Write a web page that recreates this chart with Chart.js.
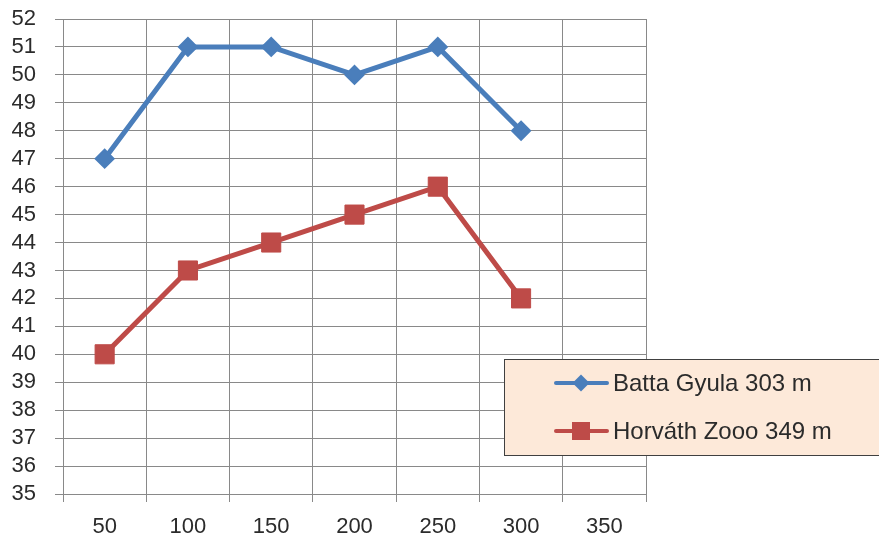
<!DOCTYPE html>
<html>
<head>
<meta charset="utf-8">
<script src="https://cdn.jsdelivr.net/npm/chart.js@4"></script>
<style>
html,body{margin:0;padding:0;background:#fff;}
#wrap{width:879px;height:540px;position:relative;}
</style>
</head>
<body>
<div id="wrap"><canvas id="c" width="879" height="540"></canvas></div>
<script>
const categories = ['50','100','150','200','250','300','350'];
const battaName = 'Batta Gyula 303 m';
const battaValues = [47, 51, 51, 50, 51, 48];
const horvathName = 'Horváth Zooo 349 m';
const horvathValues = [40, 43, 44, 45, 46, 42];
const yMin = 35, yMax = 52, yStep = 1;

const FONT = '"Liberation Sans", Arial, sans-serif';
const GRID = '#898989';
const TEXT = '#2b2b2b';

const legendPlugin = {
  id: 'boxLegend',
  afterDraw(chart) {
    const ctx = chart.ctx;
    ctx.save();
    const x0 = 504, y0 = 359, x1 = 880, y1 = 455;
    ctx.fillStyle = '#FDE9D9';
    ctx.fillRect(x0, y0, x1 - x0, y1 - y0);
    ctx.strokeStyle = '#404040';
    ctx.lineWidth = 1;
    ctx.strokeRect(x0 + 0.5, y0 + 0.5, x1 - x0, y1 - y0);
    const rows = [383, 431];
    chart.data.datasets.forEach((ds, i) => {
      const y = rows[i];
      ctx.strokeStyle = ds.borderColor;
      ctx.lineWidth = 4;
      ctx.lineCap = 'round';
      ctx.beginPath();
      ctx.moveTo(556, y);
      ctx.lineTo(607, y);
      ctx.stroke();
      ctx.fillStyle = ds.borderColor;
      if (ds.pointStyle === 'rectRot') {
        const r = 8.5;
        ctx.beginPath();
        ctx.moveTo(581, y - r);
        ctx.lineTo(581 + r, y);
        ctx.lineTo(581, y + r);
        ctx.lineTo(581 - r, y);
        ctx.closePath();
        ctx.fill();
      } else {
        ctx.fillRect(581 - 9, y - 9, 18, 18);
      }
      ctx.fillStyle = TEXT;
      ctx.font = '24px ' + FONT;
      ctx.textBaseline = 'middle';
      ctx.textAlign = 'left';
      ctx.fillText(ds.label, 613, y + 1);
    });
    ctx.restore();
  }
};

new Chart(document.getElementById('c'), {
  type: 'line',
  data: {
    labels: categories,
    datasets: [
      {
        label: battaName,
        data: battaValues,
        borderColor: '#4A7EBB',
        backgroundColor: '#4A7EBB',
        borderWidth: 5,
        pointStyle: 'rectRot',
        pointRadius: 9,
        pointBorderWidth: 2,
        pointHoverRadius: 9,
        tension: 0
      },
      {
        label: horvathName,
        data: horvathValues,
        borderColor: '#BE4B48',
        backgroundColor: '#BE4B48',
        borderWidth: 5,
        pointStyle: 'rect',
        pointRadius: 13.5,
        pointBorderWidth: 1,
        pointHoverRadius: 13.5,
        tension: 0
      }
    ]
  },
  options: {
    responsive: false,
    animation: false,
    events: [],
    layout: { autoPadding: false, padding: { left: 0, top: 19, right: 233, bottom: 0 } },
    plugins: { legend: { display: false }, tooltip: { enabled: false } },
    scales: {
      x: {
        type: 'category',
        offset: true,
        grid: { offset: true, color: GRID, lineWidth: 1, tickLength: 8, drawTicks: true },
        border: { color: GRID, width: 1 },
        ticks: { color: TEXT, font: { family: FONT, size: 22 }, padding: 12, maxRotation: 0, autoSkip: false },
        afterFit(s) { s.height = 46; s.paddingLeft = 0; s.paddingRight = 0; }
      },
      y: {
        min: yMin, max: yMax,
        grid: { color: GRID, lineWidth: 1, tickLength: 8 },
        border: { color: GRID, width: 1 },
        ticks: { stepSize: yStep, color: TEXT, font: { family: FONT, size: 22 }, padding: 19, autoSkip: false },
        afterFit(s) { s.width = 63; s.paddingTop = 0; s.paddingBottom = 0; }
      }
    }
  },
  plugins: [legendPlugin]
});
</script>
</body>
</html>
